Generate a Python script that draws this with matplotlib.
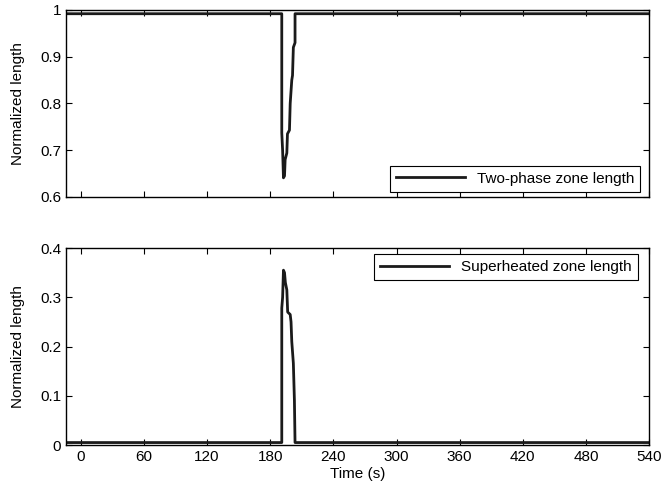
import matplotlib
matplotlib.use('Agg')
import matplotlib.pyplot as plt

plt.rcParams['font.family'] = ['Liberation Sans', 'DejaVu Sans']
plt.rcParams['font.size'] = 11

# time axis ticks
xticks = [0, 60, 120, 180, 240, 300, 360, 420, 480, 540]

# two-phase zone (normalized)
t_2p = [-15, 191, 191, 191.8, 192.6, 193.6, 194.2, 195.8, 196.4, 198.3, 199.0,
        200.5, 201.2, 202, 203.6, 203.6, 540]
L_2p = [0.992, 0.992, 0.737, 0.70, 0.641, 0.645, 0.68, 0.694, 0.735, 0.743, 0.80,
        0.85, 0.86, 0.92, 0.93, 0.992, 0.992]

# superheated zone (normalized)
t_sh = [-15, 191, 191, 191.8, 192.6, 193.6, 194.4, 195.8, 196.6, 199, 199.8,
        200.5, 202, 203, 203.6, 540]
L_sh = [0.005, 0.005, 0.278, 0.30, 0.355, 0.35, 0.33, 0.315, 0.27, 0.265, 0.25,
        0.21, 0.166, 0.091, 0.005, 0.005]

fig = plt.figure(figsize=(6.65, 4.87), dpi=100)
ax1 = fig.add_axes([0.0992, 0.5955, 0.877, 0.384])
ax2 = fig.add_axes([0.0992, 0.0862, 0.877, 0.4045])

for ax in (ax1, ax2):
    ax.set_xlim(-14, 540)
    ax.set_xticks(xticks)
    ax.tick_params(direction='in', top=True, right=True, length=4, width=0.8, labelsize=11)
    for s in ax.spines.values():
        s.set_linewidth(1.0)

ax1.plot(t_2p, L_2p, color='#1a1a1a', lw=2, label='Two-phase zone length')
ax1.set_ylim(0.6, 1.0)
ax1.set_yticks([0.6, 0.7, 0.8, 0.9, 1.0])
ax1.set_yticklabels(['0.6', '0.7', '0.8', '0.9', '1'])
ax1.tick_params(labelbottom=False)
ax1.set_ylabel('Normalized length')
ax1.legend(loc='lower right', bbox_to_anchor=(0.985, 0.027), borderaxespad=0,
           fancybox=False, edgecolor='black', framealpha=1, handlelength=4.5,
           fontsize=11).get_frame().set_linewidth(0.8)

ax2.plot(t_sh, L_sh, color='#1a1a1a', lw=2, label='Superheated zone length')
ax2.set_ylim(0, 0.4)
ax2.set_yticks([0, 0.1, 0.2, 0.3, 0.4])
ax2.set_yticklabels(['0', '0.1', '0.2', '0.3', '0.4'])
ax2.set_ylabel('Normalized length')
ax2.set_xlabel('Time (s)', labelpad=2)
ax2.legend(loc='upper right', bbox_to_anchor=(0.981, 0.97), borderaxespad=0,
           fancybox=False, edgecolor='black', framealpha=1, handlelength=4.5,
           fontsize=11).get_frame().set_linewidth(0.8)

ax1.yaxis.set_label_coords(-0.07, 0.5)
ax2.yaxis.set_label_coords(-0.07, 0.5)

fig.savefig('out.png', dpi=100)
